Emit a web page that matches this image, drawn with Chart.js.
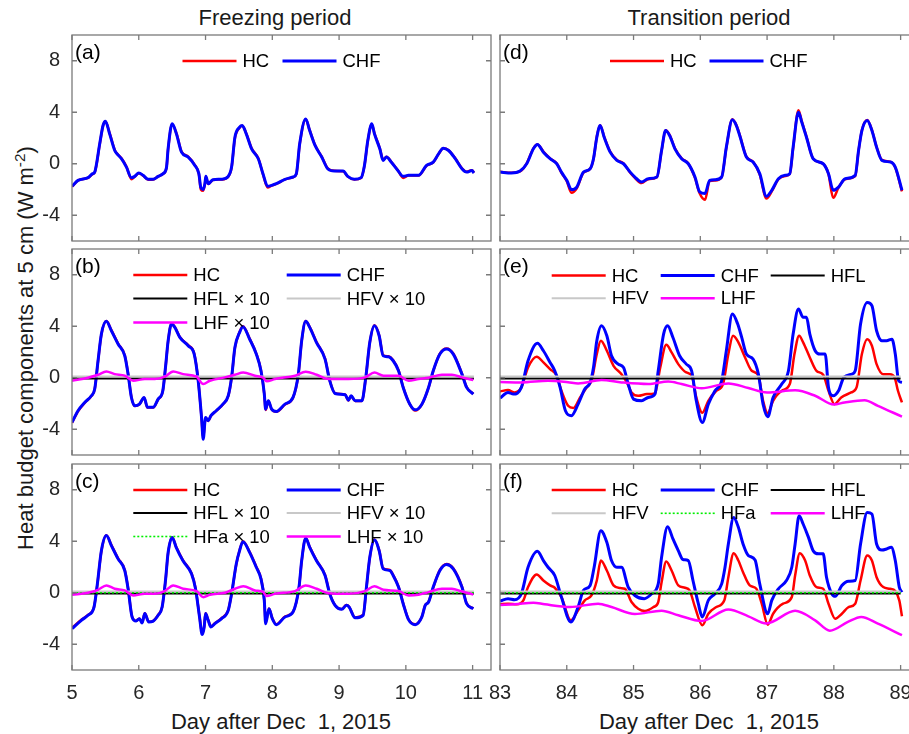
<!DOCTYPE html>
<html>
<head>
<meta charset="utf-8">
<script src="https://cdn.jsdelivr.net/npm/chart.js@4.4.1/dist/chart.umd.min.js"></script>
<style>
  html, body { margin: 0; padding: 0; background: #fff; }
  body { width: 909px; height: 734px; position: relative; overflow: hidden;
         font-family: "Liberation Sans", Arial, sans-serif; color: #1a1a1a; }
  canvas { position: absolute; }
  .title { position: absolute; font-size: 22px; line-height: 26px; white-space: pre; transform: translateX(-50%); }
  .ylab { position: absolute; font-size: 22px; line-height: 26px; white-space: nowrap; width: 600px;
          text-align: center; left: -274px; top: 335px; transform: rotate(-90deg); }
  .ylab sup { font-size: 0.7em; line-height: 0; vertical-align: 0.5em; }
</style>
</head>
<body>
<div class="title" style="left:275px; top:5px">Freezing period</div>
<div class="title" style="left:709px; top:5px">Transition period</div>
<div class="title" style="left:281px; top:709px">Day after Dec  1, 2015</div>
<div class="title" style="left:709px; top:709px">Day after Dec  1, 2015</div>
<div class="ylab">Heat budget components at 5 cm (W m<sup>-2</sup>)</div>
<script>
// axis ticks
const dayTicksL = [5, 6, 7, 8, 9, 10, 11];
const dayTicksR = [83, 84, 85, 86, 87, 88, 89];
const heatTicks = [-4, 0, 4, 8];

// (a) freezing period, HC and CHF
const dayA = [
  5.0, 5.09, 5.24, 5.31, 5.34,   5.415, 5.465, 5.5, 5.565, 5.64,
  5.665, 5.74, 5.815, 5.89, 5.94, 6.0, 6.065, 6.14, 6.215, 6.29,
  6.365, 6.415, 6.44, 6.5, 6.565, 6.64, 6.74, 6.84, 6.9, 6.93,
  6.965, 6.99, 7.005, 7.04, 7.11, 7.24, 7.34, 7.39, 7.44, 7.51,
  7.55, 7.61, 7.69, 7.79, 7.86,  7.93, 7.99, 8.06, 8.19, 8.31,
  8.36, 8.41, 8.5, 8.56, 8.64,   8.74, 8.83, 8.93, 9.06, 9.13,
  9.23, 9.33, 9.38, 9.43, 9.49,  9.53, 9.61, 9.66, 9.71, 9.78,
  9.88, 9.96, 10.04, 10.19, 10.31, 10.41, 10.49, 10.56, 10.64, 10.74,
  10.84, 10.91, 10.99, 11.02
];
const chfA = [
  -1.75, -1.29, -1.08, -0.77, -0.65, 1.55, 2.97, 3.3, 2.3, 1.03,
  0.83, 0.39, -0.26, -1.08, -0.98,   -0.72, -0.9, -1.21, -1.21, -0.98,
  -0.77, -0.3, 1.2, 3.1, 2.3,        0.9, 0.52, -0.13, -0.77, -1.86,
  -2.0, -1.55, -0.98, -1.55, -1.24,  -1.2, -0.98, -0.26, 2.06, 2.84,
  2.97, 2.32, 1.16, 0.39, -0.77,     -1.75, -1.68, -1.55, -1.21, -1.03,
  -0.77, 1.55, 3.48, 2.58, 1.42,     0.52, -0.39, -0.57, -0.57, -0.98,
  -1.21, -1.08, -0.13, 1.81, 3.1,    2.32, 1.16, 0.26, 0.52, 0.13,
  -0.52, -0.98, -0.9, -0.9, -0.13,   0.13, 0.77, 1.21, 1.03, 0.39,
  -0.39, -0.65, -0.52, -0.72
];
const hcA = [
  -1.78, -1.3, -1.1, -0.8, -0.68,    1.5, 2.95, 3.28, 2.35, 1.08,
  0.85, 0.42, -0.22, -1.2, -1.0,     -0.74, -0.92, -1.24, -1.22, -0.98,
  -0.78, -0.32, 1.15, 3.05, 2.35,    0.95, 0.55, -0.1, -0.8, -2.0,
  -2.1, -1.6, -1.0, -1.58, -1.26,    -1.22, -1.0, -0.3, 2.0, 2.8,
  2.95, 2.35, 1.2, 0.42, -0.8,       -1.85, -1.7, -1.57, -1.22, -1.05,
  -0.8, 1.5, 3.45, 2.6, 1.45,        0.55, -0.36, -0.55, -0.58, -1.0,
  -1.22, -1.1, -0.16, 1.76, 3.05,    2.36, 1.2, 0.3, 0.55, 0.16,
  -0.5, -1.1, -0.92, -0.92, -0.16,   0.1, 0.75, 1.2, 1.05, 0.42,
  -0.36, -0.62, -0.5, -0.7
];

// (b) freezing period with components
const dayB = [
  5.0, 5.09, 5.19, 5.29, 5.34,   5.39, 5.44, 5.515, 5.59, 5.69,
  5.79, 5.84, 5.89, 5.94, 6.01,  6.08, 6.13, 6.215, 6.29, 6.36,
  6.4, 6.44, 6.49, 6.54, 6.615,  6.74, 6.83, 6.89, 6.94, 6.965,
  7.0, 7.04, 7.08, 7.16, 7.26,   7.34, 7.39, 7.44, 7.51, 7.56,
  7.66, 7.76, 7.83, 7.88, 7.9,   7.94, 7.99, 8.06, 8.19, 8.31,
  8.39, 8.44, 8.5, 8.56, 8.66,   8.79, 8.86, 8.94, 9.09, 9.14,
  9.18, 9.24, 9.34, 9.4, 9.46,   9.53, 9.6, 9.66, 9.74, 9.81,
  9.89, 9.96, 10.06, 10.14, 10.24, 10.34, 10.41, 10.51, 10.61, 10.71,
  10.84, 10.91, 11.01
];
const chfB = [
  -3.47, -2.56, -1.92, -1.4, -0.88,  1.32, 3.39, 4.38, 3.65, 2.62,
  1.71, 0.28, -1.53, -2.18, -2.05,   -1.53, -2.3, -2.3, -1.66, -1.01,
  0.8, 2.88, 4.17, 3.91, 3.13,       2.49, 1.84, -0.23, -3.08, -4.77,
  -3.08, -3.34, -2.95, -2.56, -2.05, -1.4, 0.03, 2.36, 3.52, 3.96,
  3.0, 1.84, 0.54, -1.27, -2.44,     -1.79, -2.44, -2.62, -2.05, -1.53,
  0.28, 2.88, 4.38, 3.91, 2.75,      1.45, -0.23, -1.22, -1.32, -1.74,
  -1.4, -1.79, -1.79, 0.03, 2.75,    4.04, 3.26, 1.71, 1.63, 1.32,
  0.54, -0.75, -2.05, -2.49, -2.05,  -0.75, 0.54, 1.84, 2.23, 1.84,
  0.28, -0.75, -1.27
];
const hcB = [
  -3.5, -2.6, -1.95, -1.42, -0.9,    1.28, 3.35, 4.4, 3.7, 2.66,
  1.75, 0.32, -1.5, -2.2, -2.06,     -1.55, -2.32, -2.32, -1.68, -1.03,
  0.76, 2.85, 4.2, 3.95, 3.17,       2.53, 1.88, -0.2, -3.1, -4.7,
  -3.1, -3.36, -2.97, -2.58, -2.07,  -1.42, 0.0, 2.32, 3.55, 4.0,
  3.04, 1.88, 0.58, -1.25, -2.5,     -1.8, -2.46, -2.64, -2.07, -1.55,
  0.25, 2.85, 4.4, 3.95, 2.79,       1.49, -0.2, -1.2, -1.3, -1.76,
  -1.42, -1.8, -1.8, 0.0, 2.72,      4.07, 3.3, 1.75, 1.67, 1.36,
  0.58, -0.72, -2.07, -2.55, -2.07,  -0.77, 0.52, 1.88, 2.27, 1.88,
  0.32, -0.72, -1.25
];

// (c) freezing period with advection term
const dayC = [
  5.0, 5.14, 5.24, 5.33, 5.38,   5.44, 5.515, 5.59, 5.69, 5.79,
  5.84, 5.9, 5.96, 6.01, 6.05,   6.09, 6.15, 6.21, 6.29, 6.35,
  6.4, 6.44, 6.5, 6.56, 6.66,    6.79, 6.85, 6.91, 6.95, 6.98,
  7.0, 7.04, 7.08, 7.14, 7.24,   7.34, 7.39, 7.46, 7.51, 7.56,
  7.66, 7.76, 7.83, 7.88, 7.9,   7.95, 8.0, 8.06, 8.19, 8.31,
  8.4, 8.44, 8.5, 8.56, 8.66,    8.79, 8.86, 8.94, 9.04, 9.11,
  9.15, 9.24, 9.36, 9.41, 9.46,  9.53, 9.6, 9.66, 9.76, 9.81,
  9.89, 9.96, 10.04, 10.14, 10.24, 10.29, 10.34, 10.41, 10.51, 10.61,
  10.71, 10.84, 10.91, 11.01
];
const chfC = [
  -2.79, -2.14, -1.75, -1.11, 0.69,  3.27, 4.44, 3.66, 2.63, 1.73,
  0.31, -1.88, -2.2, -2.01, -2.35,   -1.62, -2.27, -2.22, -1.75, -1.11,
  0.95, 3.14, 4.3, 3.53, 2.5,        1.47, 0.31, -1.88, -3.25, -2.66,
  -1.62, -2.14, -2.66, -2.4, -2.01,  -1.37, -0.08, 2.24, 3.27, 3.97,
  3.14, 1.98, 1.08, -0.6, -2.4,      -1.24, -2.01, -2.48, -1.88, -1.5,
  0.44, 2.5, 4.23, 3.53, 2.5,        1.34, -0.08, -0.98, -1.29, -0.98,
  -1.11, -1.94, -1.75, 0.44, 2.76,   4.1, 3.27, 1.86, 1.73, 1.34,
  0.44, -0.85, -2.09, -2.48, -1.88,  -0.98, -0.72, 0.44, 1.73, 2.19,
  1.86, 0.44, -0.85, -1.24
];
const hcC = [
  -2.72, -2.1, -1.72, -1.1, 0.65,    3.22, 4.46, 3.7, 2.67, 1.77,
  0.35, -1.85, -2.18, -2.0, -2.33,   -1.6, -2.25, -2.2, -1.73, -1.1,
  0.9, 3.1, 4.32, 3.57, 2.54,        1.51, 0.35, -1.85, -3.2, -2.62,
  -1.6, -2.12, -2.62, -2.37, -1.98,  -1.35, -0.1, 2.2, 3.3, 4.0,
  3.18, 2.02, 1.12, -0.56, -2.36,    -1.22, -1.98, -2.45, -1.86, -1.48,
  0.4, 2.46, 4.26, 3.57, 2.54,       1.38, -0.04, -0.96, -1.27, -0.96,
  -1.09, -1.92, -1.73, 0.4, 2.72,    4.13, 3.31, 1.9, 1.77, 1.38,
  0.48, -0.82, -2.06, -2.45, -1.86,  -0.96, -0.7, 0.4, 1.77, 2.23,
  1.9, 0.48, -0.82, -1.22
];

// latent heat flux x10 (freezing period)
const lhfDayFrz = [
  5.0, 5.24, 5.39, 5.515, 5.64,   5.79, 5.915, 6.09, 6.24, 6.39,
  6.515, 6.665, 6.865, 6.965, 7.065, 7.29, 7.44, 7.565, 7.74, 7.865,
  7.915, 8.04, 8.34, 8.5, 8.665,  8.84, 9.14, 9.39, 9.53, 9.665,
  9.89, 10.04, 10.19, 10.34, 10.54, 10.69, 10.84, 11.01
];
const lhfB = [
  -0.23, 0, 0.23, 0.49, 0.28,     0.16, -0.23, -0.1, -0.1, 0.08,
  0.49, 0.28, 0.08, -0.49, -0.23, 0.03, 0.23, 0.41, 0.16, 0,
  -0.28, -0.1, 0.16, 0.47, 0.23,  -0.1, -0.1, 0.03, 0.41, 0.16,
  0.16, -0.23, -0.1, 0, 0.23,     0.23, 0.03, -0.18
];
const lhfC = [
  -0.15, 0, 0.23, 0.57, 0.31,     0.18, -0.21, -0.08, -0.08, 0.13,
  0.57, 0.31, 0.13, -0.34, -0.15, 0, 0.31, 0.51, 0.18, 0.05,
  -0.26, -0.08, 0.13, 0.57, 0.31, -0.03, -0.08, 0.13, 0.51, 0.23,
  0.13, -0.21, -0.15, 0.05, 0.31, 0.31, 0.1, -0.13
];

// liquid / vapour / advective heat flux, all close to zero
const flatDayFrz = [5.0, 6, 7, 8, 9, 10, 11.02];
const hflFrz = [-0.06, -0.06, -0.06, -0.06, -0.06, -0.06, -0.06];
const hfvFrz = [0.1, 0.1, 0.1, 0.1, 0.1, 0.1, 0.1];
const hfaFrz = [0.0, 0.0, 0.0, 0.0, 0.0, 0.0, 0.0];
const flatDayTrn = [83.0, 84, 85, 86, 87, 88, 89.0];
const hflTrn = [-0.06, -0.06, -0.06, -0.06, -0.06, -0.06, -0.06];
const hfvTrn = [0.1, 0.1, 0.1, 0.1, 0.1, 0.1, 0.1];
const hfaTrn = [0.0, 0.0, 0.0, 0.0, 0.0, 0.0, 0.0];

// (d) transition period, HC and CHF
const dayD = [
  83.0, 83.17, 83.3, 83.4, 83.5,     83.56, 83.65, 83.75, 83.85, 83.92,
  84.0, 84.07, 84.15, 84.25, 84.35,  84.4, 84.45, 84.5, 84.56, 84.65,
  84.75, 84.85, 84.95, 85.02, 85.12, 85.22, 85.35, 85.42, 85.48, 85.54,
  85.62, 85.72, 85.82, 85.92, 85.99, 86.07, 86.14, 86.22, 86.32, 86.39,
  86.48, 86.54, 86.59, 86.69, 86.79, 86.89, 86.99, 87.07, 87.17, 87.27,
  87.34, 87.39, 87.47, 87.52, 87.59, 87.69, 87.84, 87.92, 87.99, 88.07,
  88.17, 88.32, 88.37, 88.42, 88.5,  88.57, 88.64, 88.72, 88.85, 88.92,
  89.02
];
const chfD = [
  -0.65, -0.72, -0.57, 0, 1.16,      1.5, 0.9, 0.39, 0, -0.65,
  -1.29, -2.01, -1.81, -0.65, -0.39, 0.39, 2.06, 2.97, 2.06, 0.9,
  0.26, 0, -0.65, -1.03, -1.42,      -1.16, -1.03, 1.03, 2.58, 2.19,
  1.16, 0.39, 0, -1.03, -2.19,       -2.32, -1.29, -1.24, -1.03, 1.29,
  3.41, 2.97, 2.19, 0.52, 0.13,      -0.77, -2.53, -2.06, -1.16, -0.9,
  -0.77, 1.29, 4.0, 3.22, 2.06,      0.39, 0, -0.77, -2.06, -1.81,
  -1.16, -0.9, 1.03, 2.58, 3.35,     2.58, 1.29, 0.26, 0.13, -0.26,
  -2.06
];
const hcD = [
  -0.62, -0.7, -0.6, 0.02, 1.2,      1.5, 0.95, 0.42, 0.03, -0.7,
  -1.35, -2.25, -1.9, -0.7, -0.39,   0.35, 2.1, 3.0, 2.1, 0.95,
  0.3, 0.03, -0.7, -1.1, -1.5,       -1.2, -1.05, 1.0, 2.6, 2.25,
  1.2, 0.42, 0.02, -1.1, -2.3,       -2.8, -1.35, -1.3, -1.05, 1.25,
  3.45, 3.0, 2.25, 0.55, 0.16,       -0.85, -2.7, -2.15, -1.2, -0.95,
  -0.8, 1.2, 4.15, 3.3, 2.1,         0.39, 0.0, -0.8, -2.65, -1.85,
  -1.2, -0.95, 1.0, 2.6, 3.4,        2.62, 1.3, 0.3, 0.15, -0.3,
  -2.15
];

// (e) transition period with components
const dayE = [
  83.0, 83.12, 83.2, 83.32, 83.42,   83.56, 83.65, 83.75, 83.82, 83.9,
  83.98, 84.07, 84.17, 84.27, 84.35, 84.4, 84.45, 84.52, 84.6, 84.67,
  84.77, 84.85, 84.92, 85.0, 85.12,  85.22, 85.32, 85.37, 85.45, 85.51,
  85.59, 85.69, 85.79, 85.87, 85.94, 86.03, 86.12, 86.22, 86.32, 86.39,
  86.48, 86.56, 86.62, 86.69, 86.79, 86.87, 86.94, 87.01, 87.09, 87.22,
  87.32, 87.39, 87.47, 87.54, 87.59, 87.64, 87.72, 87.79, 87.87, 87.92,
  87.99, 88.07, 88.15, 88.27, 88.32, 88.4, 88.5, 88.57, 88.64, 88.72,
  88.79, 88.87, 88.92, 88.97, 89.02
];
const chfE = [
  -1.58, -1.14, -1.27, -0.75, 1.32,  2.67, 2.1, 1.19, 0.54, -0.75,
  -2.56, -2.95, -2.05, -0.88, -0.36, 0.8, 2.88, 4.04, 3.26, 1.71,
  1.06, 0.8, -0.49, -1.66, -1.79,    -1.53, -1.27, 0.54, 3.39, 4.04,
  3.13, 1.71, 1.06, 0.54, -1.79,     -3.47, -2.05, -1.01, -0.23, 2.1,
  4.95, 4.17, 3.13, 1.84, 1.45,      0.28, -2.05, -3.03, -1.53, -0.49,
  0.54, 3.39, 5.34, 4.69, 4.69,      3.39, 2.1, 1.84, 1.84, -0.75,
  -1.4, -1.01, 0.03, 0.28, 0.54,     4.17, 5.85, 5.6, 3.65, 2.88,
  2.88, 3.0, 1.84, -0.23, -0.36
];
const dayHcE = [
  83.0, 83.12, 83.22, 83.32, 83.42,  83.55, 83.65, 83.75, 83.85, 83.92,
  84.02, 84.1, 84.2, 84.3, 84.37,    84.45, 84.51, 84.6, 84.7, 84.82,
  84.9, 84.97, 85.07, 85.2, 85.32,   85.4, 85.49, 85.57, 85.67, 85.79,
  85.87, 85.94, 86.03, 86.12, 86.24, 86.34, 86.42, 86.49, 86.57, 86.67,
  86.77, 86.87, 86.94, 87.01, 87.09, 87.22, 87.34, 87.41, 87.48, 87.54,
  87.64, 87.74, 87.84, 87.92, 88.01, 88.11, 88.26, 88.34, 88.42, 88.5,
  88.57, 88.64, 88.74, 88.84, 88.91, 88.96, 89.02
];
const hcE = [
  -1.06, -0.96, -1.14, -0.75, 0.8,   1.63, 1.19, 0.67, 0.16, -1.01,
  -2.18, -2.35, -1.53, -0.75, -0.23, 1.84, 2.88, 2.1, 0.93, 0.28,
  -0.36, -1.14, -1.4, -1.27, -1.22,  0.8, 2.56, 1.97, 1.06, 0.41,
  0.16, -1.53, -2.72, -1.79, -1.01,  -0.49, 1.84, 3.26, 2.75, 1.58,
  0.54, 0.16, -1.79, -2.75, -1.79,   -1.01, -0.49, 1.84, 3.26, 2.75,
  1.58, 0.54, 0.23, -1.01, -2.05,    -1.53, -1.14, -0.75, 1.84, 3.0,
  2.49, 1.06, 0.28, 0.28, 0.03,      -1.01, -1.92
];
const lhfDayE = [
  83.0, 83.32, 83.72, 84.02, 84.17,  84.52, 84.82, 85.22, 85.52, 85.72,
  86.02, 86.42, 86.72, 87.0, 87.42,  87.72, 88.0, 88.16, 88.46, 88.66,
  89.02
];
const lhfE = [
  -0.33, -0.36, -0.23, -0.35, -0.44, -0.18, -0.36, -0.49, -0.3, -0.49,
  -0.82, -0.44, -0.8, -1.14, -0.98,  -1.4, -2.08, -1.92, -1.74, -2.18,
  -3.02
];

// (f) transition period with advection term
const dayF = [
  83.0, 83.12, 83.22, 83.32, 83.42,  83.56, 83.65, 83.72, 83.82, 83.92,
  84.06, 84.17, 84.25, 84.35, 84.41, 84.51, 84.6, 84.67, 84.75, 84.82,
  84.92, 85.02, 85.16, 85.27, 85.37, 85.42, 85.51, 85.59, 85.67, 85.74,
  85.82, 85.89, 85.97, 86.03, 86.12, 86.22, 86.32, 86.37, 86.42, 86.5,
  86.57, 86.64, 86.72, 86.82, 86.89, 87.01, 87.07, 87.17, 87.29, 87.37,
  87.42, 87.48, 87.54, 87.62, 87.69, 87.77, 87.84, 87.89, 87.97, 88.02,
  88.12, 88.22, 88.32, 88.4, 88.5,   88.57, 88.64, 88.72, 88.79, 88.86,
  88.92, 88.98, 89.02
];
const chfF = [
  -0.65, -0.46, -0.54, -0.08, 1.98,  3.22, 2.5, 1.98, 1.34, -0.34,
  -2.27, -1.11, 0.18, 0.57, 1.98,    4.82, 3.92, 2.5, 1.98, 1.98,
  0.44, -0.21, -0.46, -0.08, 0.69,   2.76, 5.13, 4.18, 3.27, 2.58,
  2.5, 0.95, -0.85, -1.88, -0.59,    -0.08, 0.69, 1.98, 3.79, 5.85,
  5.08, 3.79, 2.89, 2.55, 0.69,      -1.63, -0.59, 0.31, 0.95, 1.98,
  3.79, 5.98, 5.34, 4.3, 3.27,       3.02, 3.02, 1.21, -0.08, -0.28,
  0.57, 0.9, 0.95, 3.79, 6.24,       6.11, 3.79, 3.32, 3.4, 3.53,
  2.5, 0.44, 0.05
];
const dayHcF = [
  83.0, 83.12, 83.25, 83.35, 83.42,  83.55, 83.65, 83.75, 83.82, 83.92,
  84.06, 84.17, 84.27, 84.37, 84.45, 84.51, 84.6, 84.7, 84.8, 84.87,
  84.97, 85.07, 85.17, 85.3, 85.37,  85.42, 85.49, 85.57, 85.67, 85.77,
  85.84, 85.92, 86.03, 86.12, 86.24, 86.36, 86.42, 86.5, 86.57, 86.64,
  86.74, 86.84, 86.92, 87.01, 87.09, 87.24, 87.37, 87.42, 87.49, 87.57,
  87.64, 87.74, 87.84, 87.92, 88.02, 88.12, 88.22, 88.32, 88.4, 88.5,
  88.57, 88.64, 88.74, 88.84, 88.92, 88.98, 89.02
];
const hcF = [
  -0.9, -0.85, -0.9, -0.59, 0.44,    1.42, 0.95, 0.57, 0.39, -0.34,
  -2.14, -1.37, -0.59, -0.21, 0.95,  2.5, 1.73, 0.57, 0.36, 0.31,
  -0.72, -1.24, -1.42, -1.11, -0.72, 0.82, 2.42, 1.73, 0.57, 0.39,
  0.18, -1.11, -2.53, -1.63, -1.11,  -0.59, 1.21, 3.07, 2.5, 1.6,
  0.57, 0.31, -0.85, -2.48, -1.63,   -0.85, -0.34, 1.34, 3.07, 2.5,
  1.34, 0.44, 0.31, -0.85, -2.01,    -1.63, -1.11, -0.85, 0.95, 2.89,
  2.5, 1.21, 0.44, 0.31, 0.13,       -0.59, -1.83
];
const lhfDayF = [
  83.0, 83.22, 83.5, 83.67, 84.05,   84.47, 84.67, 85.02, 85.42, 85.67,
  86.02, 86.42, 86.72, 86.99, 87.42, 87.72, 87.94, 88.21, 88.41, 88.66,
  89.02
];
const lhfF = [
  -0.95, -0.9, -0.77, -0.9, -1.11,   -0.85, -1.11, -1.65, -1.4, -1.75,
  -2.2, -1.3, -1.83, -2.38, -1.4,    -2.14, -2.95, -2.27, -1.88, -2.4,
  -3.3
];

Chart.defaults.font.family = '"Liberation Sans", Arial, sans-serif';
Chart.defaults.color = '#262626';

// line styles; lower order is drawn on top
const HC = { borderColor: '#ff0000', borderWidth: 2.5, order: 5 };
const CHF = { borderColor: '#0000ff', borderWidth: 3, order: 4 };
const HFL = { borderColor: '#000000', borderWidth: 1.8, order: 3 };
const HFV = { borderColor: '#c8c8c8', borderWidth: 2, order: 2 };
const HFA = { borderColor: '#00ee00', borderWidth: 1.6, borderDash: [2, 2], order: 1 };
const LHF = { borderColor: '#ff00ff', borderWidth: 2.5, order: 0 };

const COLUMNS = [
  { left: 72, min: 5, ticks: dayTicksL },
  { left: 500, min: 83, ticks: dayTicksR },
];
const ROWS = [{ top: 35, h: 206 }, { top: 249, h: 206 }, { top: 464, h: 206 }];
const BOX_W = 419, DAY_PX = 66.77;

const PANELS = [
  { tag: '(a)', col: 0, row: 0, legend: { cols: [110.5, 210.5], rows: [26] },
    series: [['HC', dayA, hcA, HC, [0, 0]], ['CHF', dayA, chfA, CHF, [1, 0]]] },
  { tag: '(b)', col: 0, row: 1, legend: { cols: [61.3, 214.7], rows: [26, 49.5, 73.5] },
    series: [
      ['HC', dayB, hcB, HC, [0, 0]], ['CHF', dayB, chfB, CHF, [1, 0]],
      ['HFL × 10', flatDayFrz, hflFrz, HFL, [0, 1]], ['HFV × 10', flatDayFrz, hfvFrz, HFV, [1, 1]],
      ['LHF × 10', lhfDayFrz, lhfB, LHF, [0, 2]],
    ] },
  { tag: '(c)', col: 0, row: 2, legend: { cols: [61.3, 214.7], rows: [26, 49, 72.5] },
    series: [
      ['HC', dayC, hcC, HC, [0, 0]], ['CHF', dayC, chfC, CHF, [1, 0]],
      ['HFL × 10', flatDayFrz, hflFrz, HFL, [0, 1]], ['HFV × 10', flatDayFrz, hfvFrz, HFV, [1, 1]],
      ['HFa × 10', flatDayFrz, hfaFrz, HFA, [0, 2]], ['LHF × 10', lhfDayFrz, lhfC, LHF, [1, 2]],
    ] },
  { tag: '(d)', col: 1, row: 0, legend: { cols: [110, 209.5], rows: [26] },
    series: [['HC', dayD, hcD, HC, [0, 0]], ['CHF', dayD, chfD, CHF, [1, 0]]] },
  { tag: '(e)', col: 1, row: 1, legend: { cols: [51.7, 160.7, 270.7], rows: [26.5, 49.3] },
    series: [
      ['HC', dayHcE, hcE, HC, [0, 0]], ['CHF', dayE, chfE, CHF, [1, 0]],
      ['HFL', flatDayTrn, hflTrn, HFL, [2, 0]], ['HFV', flatDayTrn, hfvTrn, HFV, [0, 1]],
      ['LHF', lhfDayE, lhfE, LHF, [1, 1]],
    ] },
  { tag: '(f)', col: 1, row: 2, legend: { cols: [51.7, 160.7, 270.7], rows: [26, 49.3] },
    series: [
      ['HC', dayHcF, hcF, HC, [0, 0]], ['CHF', dayF, chfF, CHF, [1, 0]],
      ['HFL', flatDayTrn, hflTrn, HFL, [2, 0]], ['HFV', flatDayTrn, hfvTrn, HFV, [0, 1]],
      ['HFa', flatDayTrn, hfaTrn, HFA, [1, 1]], ['LHF', lhfDayF, lhfF, LHF, [2, 1]],
    ] },
];

// box round the plot area with inward ticks on all four sides
const framePlugin = {
  id: 'frame',
  afterDraw(chart, args, opts) {
    const { ctx, chartArea: a, scales: { x, y } } = chart;
    const len = 5;
    ctx.save();
    ctx.strokeStyle = '#7a7a7a';
    ctx.lineWidth = 1.3;
    ctx.strokeRect(a.left, a.top, a.right - a.left, a.bottom - a.top);
    ctx.beginPath();
    opts.xTicks.forEach(v => {
      const px = x.getPixelForValue(v);
      ctx.moveTo(px, a.bottom); ctx.lineTo(px, a.bottom - len);
      ctx.moveTo(px, a.top); ctx.lineTo(px, a.top + len);
    });
    opts.yTicks.forEach(v => {
      const py = y.getPixelForValue(v);
      ctx.moveTo(a.left, py); ctx.lineTo(a.left + len, py);
      ctx.moveTo(a.right, py); ctx.lineTo(a.right - len, py);
    });
    ctx.stroke();
    ctx.restore();
  },
};

// legend laid out in a grid inside the axes, plus the panel tag
const legendPlugin = {
  id: 'panelLegend',
  afterDatasetsDraw(chart, args, opts) {
    const { ctx, chartArea: a } = chart;
    ctx.save();
    ctx.font = '18.5px "Liberation Sans", Arial, sans-serif';
    ctx.textBaseline = 'middle';
    ctx.fillStyle = '#000';
    chart.data.datasets.forEach(ds => {
      if (!ds.slot) return;
      const lx = a.left + opts.cols[ds.slot[0]];
      const ly = a.top + opts.rows[ds.slot[1]];
      ctx.strokeStyle = ds.borderColor;
      ctx.lineWidth = ds.borderWidth;
      ctx.setLineDash(ds.borderDash || []);
      ctx.beginPath();
      ctx.moveTo(lx, ly);
      ctx.lineTo(lx + 54, ly);
      ctx.stroke();
      ctx.setLineDash([]);
      ctx.fillText(ds.label, lx + 60, ly + 1);
    });
    ctx.font = '21px "Liberation Sans", Arial, sans-serif';
    ctx.textBaseline = 'alphabetic';
    ctx.fillText(opts.tag, a.left + 3, a.top + 24);
    ctx.restore();
  },
};

function dataset([label, xs, ys, style, slot]) {
  return {
    label, slot, ...style,
    data: xs.map((x, i) => ({ x, y: ys[i] })),
    pointRadius: 0,
    fill: false,
    cubicInterpolationMode: 'monotone',
    borderJoinStyle: 'round',
  };
}

PANELS.forEach(p => {
  const col = COLUMNS[p.col], row = ROWS[p.row];
  const leftCol = p.col === 0;
  const axisL = leftCol ? 72 : 30;
  const bottomAxis = p.row === 2;
  const canvas = document.createElement('canvas');
  canvas.width = axisL + BOX_W + 8;
  canvas.height = 8 + row.h + (bottomAxis ? 40 : 8);
  canvas.style.left = (col.left - axisL) + 'px';
  canvas.style.top = (row.top - 8) + 'px';
  document.body.appendChild(canvas);

  new Chart(canvas, {
    type: 'line',
    data: { datasets: p.series.map(dataset) },
    options: {
      responsive: false,
      animation: false,
      events: [],
      layout: { padding: { left: leftCol ? 0 : 30, right: 8, top: 8, bottom: bottomAxis ? 0 : 8 } },
      plugins: {
        legend: { display: false },
        tooltip: { enabled: false },
        panelLegend: { ...p.legend, tag: p.tag },
        frame: { xTicks: col.ticks, yTicks: heatTicks },
      },
      scales: {
        x: {
          type: 'linear',
          min: col.min,
          max: col.min + BOX_W / DAY_PX,
          display: bottomAxis,
          grid: { display: false, drawTicks: false },
          border: { display: false },
          ticks: { padding: 11, font: { size: 20 }, color: '#262626' },
          afterBuildTicks: s => { s.ticks = col.ticks.map(v => ({ value: v })); },
          afterFit: s => {
            s.height = bottomAxis ? 40 : 0;
            s.paddingLeft = 0;
            s.paddingRight = 0;
          },
        },
        y: {
          min: -6,
          max: 10,
          display: leftCol,
          grid: { display: false, drawTicks: false },
          border: { display: false },
          ticks: { padding: 12, font: { size: 20 }, color: '#262626' },
          afterBuildTicks: s => { s.ticks = heatTicks.map(v => ({ value: v })); },
          afterFit: s => {
            s.width = leftCol ? 72 : 0;
            s.paddingTop = 0;
            s.paddingBottom = 0;
          },
        },
      },
    },
    plugins: [framePlugin, legendPlugin],
  });
});
</script>
</body>
</html>
